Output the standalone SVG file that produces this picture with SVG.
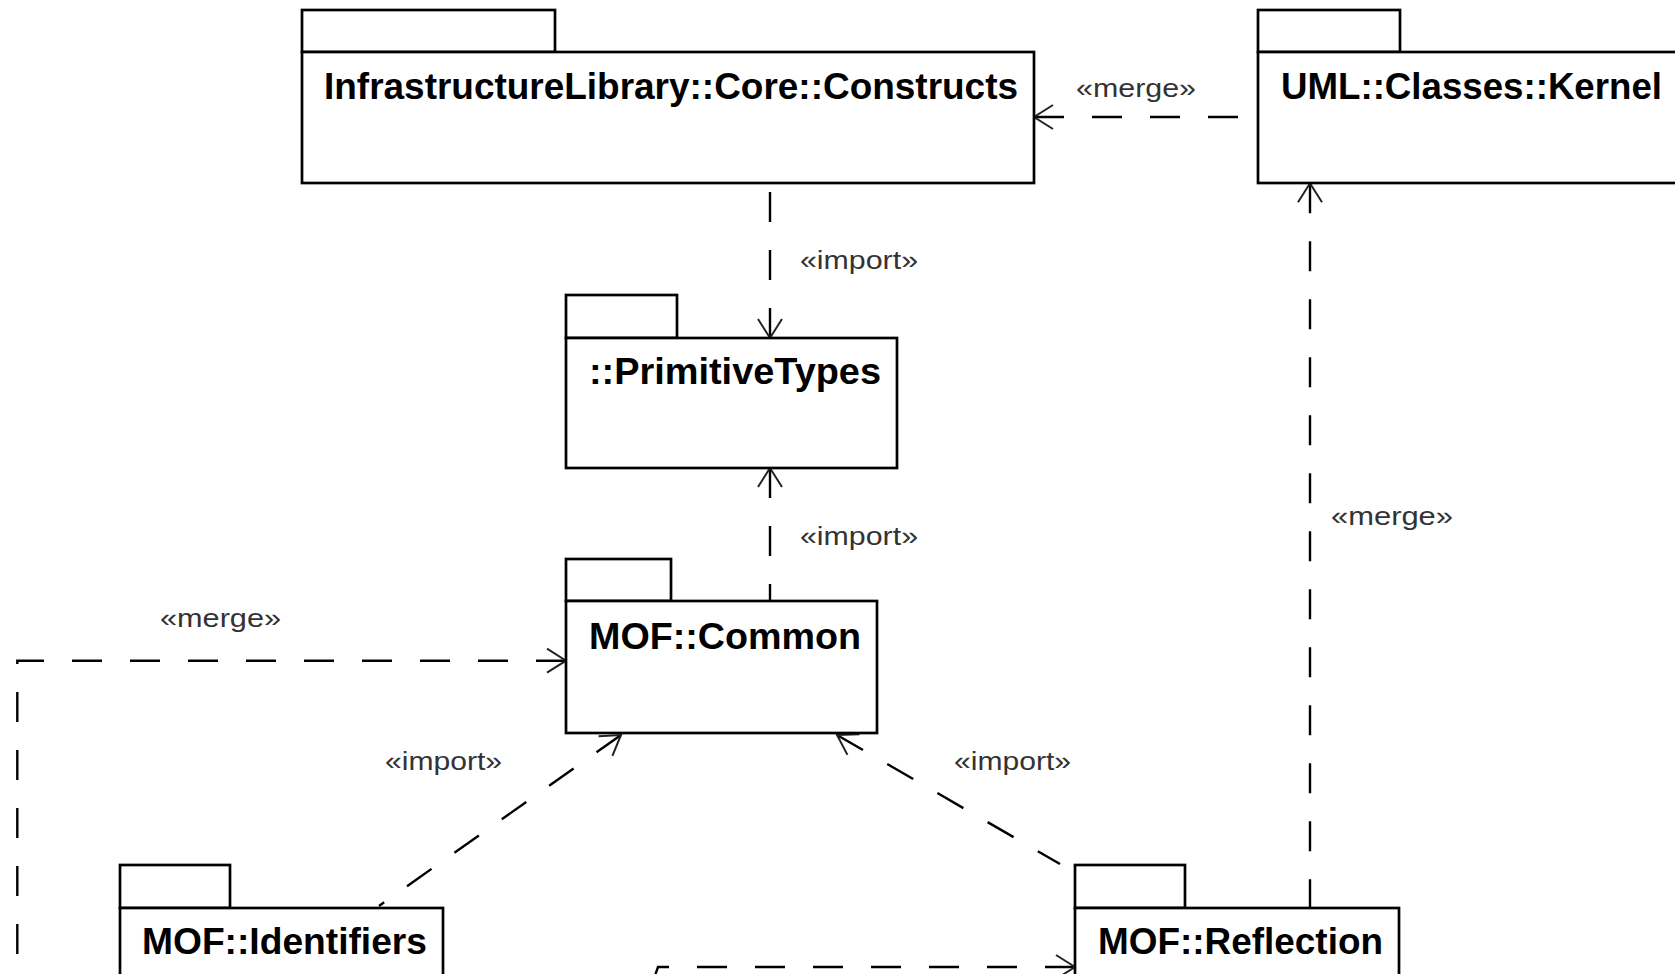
<svg xmlns="http://www.w3.org/2000/svg" width="1675" height="974" viewBox="0 0 1675 974">
<style>
.box{fill:#fff;stroke:#000;stroke-width:2.7}
.name{font-family:"Liberation Sans",Arial,sans-serif;font-weight:bold;font-size:37px;fill:#000}
.st{font-family:"Liberation Sans",Arial,sans-serif;font-size:25px;fill:#333}
.dep{fill:none;stroke:#000;stroke-width:2.4;stroke-dasharray:30 28;marker-start:url(#open)}
</style>
<defs>
<marker id="open" markerUnits="userSpaceOnUse" viewBox="-22 -15 24 30" refX="0" refY="0" markerWidth="24" markerHeight="30" orient="auto-start-reverse" overflow="visible">
<path d="M-19,-12 L0,0 L-19,12" fill="none" stroke="#222" stroke-width="2" stroke-dasharray="none"/>
</marker>
</defs>
<rect width="1675" height="974" fill="#fff"/>
<g id="connectors">
<path class="dep" d="M1034,117 L1258,117"/>
<path class="dep" d="M770,338 L770,183"/>
<path class="dep" d="M770,468 L770,601"/>
<path class="dep" d="M566,660.7 L17.3,660.7 L17.3,1000"/>
<path class="dep" d="M621,735 L379,906"/>
<path class="dep" d="M837,735 L1060,864"/>
<path class="dep" d="M1310,183.3 L1310,908"/>
<path class="dep" d="M1075,967 L658,967 L650,990" stroke="#666" stroke-width="2"/>
<text class="st" x="1076" y="97" textLength="120" lengthAdjust="spacingAndGlyphs">«merge»</text>
<text class="st" x="800" y="269" textLength="118" lengthAdjust="spacingAndGlyphs">«import»</text>
<text class="st" x="800" y="545" textLength="118" lengthAdjust="spacingAndGlyphs">«import»</text>
<text class="st" x="160" y="627" textLength="121" lengthAdjust="spacingAndGlyphs">«merge»</text>
<text class="st" x="385" y="770" textLength="117" lengthAdjust="spacingAndGlyphs">«import»</text>
<text class="st" x="954" y="770" textLength="117" lengthAdjust="spacingAndGlyphs">«import»</text>
<text class="st" x="1331" y="525" textLength="122" lengthAdjust="spacingAndGlyphs">«merge»</text>
</g>
<g id="constructs">
<rect class="box" x="302" y="10" width="253" height="42"/>
<rect class="box" x="302" y="52" width="732" height="131"/>
<text class="name" x="324" y="99" textLength="694" lengthAdjust="spacingAndGlyphs">InfrastructureLibrary::Core::Constructs</text>
</g>
<g id="kernel">
<rect class="box" x="1258" y="10" width="142" height="42"/>
<rect class="box" x="1258" y="52" width="430" height="131"/>
<text class="name" x="1281" y="99" textLength="381" lengthAdjust="spacingAndGlyphs">UML::Classes::Kernel</text>
</g>
<g id="primitivetypes">
<rect class="box" x="566" y="295" width="111" height="43"/>
<rect class="box" x="566" y="338" width="331" height="130"/>
<text class="name" x="589" y="384" textLength="292" lengthAdjust="spacingAndGlyphs">::PrimitiveTypes</text>
</g>
<g id="common">
<rect class="box" x="566" y="559" width="105" height="42"/>
<rect class="box" x="566" y="601" width="311" height="132"/>
<text class="name" x="589" y="649" textLength="272" lengthAdjust="spacingAndGlyphs">MOF::Common</text>
</g>
<g id="identifiers">
<rect class="box" x="120" y="865" width="110" height="43"/>
<rect class="box" x="120" y="908" width="323" height="140"/>
<text class="name" x="142" y="954" textLength="285" lengthAdjust="spacingAndGlyphs">MOF::Identifiers</text>
</g>
<g id="reflection">
<rect class="box" x="1075" y="865" width="110" height="43"/>
<rect class="box" x="1075" y="908" width="324" height="140"/>
<text class="name" x="1098" y="954" textLength="285" lengthAdjust="spacingAndGlyphs">MOF::Reflection</text>
</g>
</svg>
